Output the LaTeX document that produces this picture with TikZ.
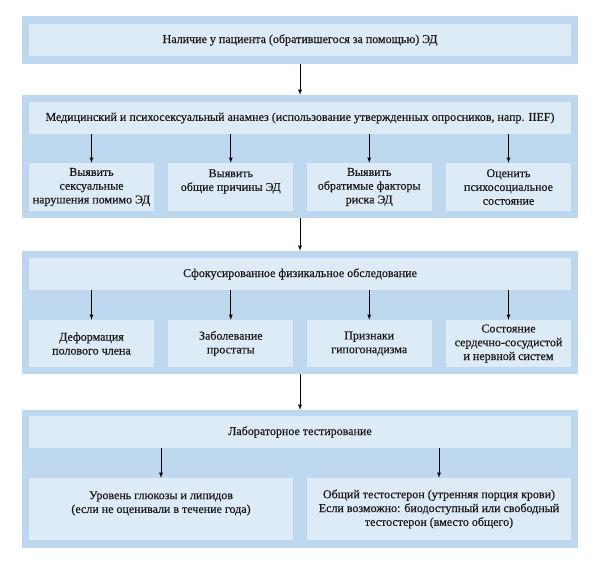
\documentclass[tikz,border=0pt]{standalone}
\usepackage{fontspec}
\setmainfont{Liberation Serif}
\newfontfamily\labelfont{Liberation Serif}[FakeBold=0.35]
\usepackage{xcolor}
\usepackage{tikz}
\usetikzlibrary{arrows}
\definecolor{panelblue}{RGB}{189,215,238}
\definecolor{boxblue}{RGB}{221,235,247}
\definecolor{inkgray}{RGB}{25,22,23}
\tikzstyle{every node}=[font=\labelfont\fontsize{12}{13.8}\selectfont, text=inkgray]
\tikzstyle{panel}=[fill=panelblue, inner sep=0pt, minimum width=556pt]
\tikzstyle{header}=[fill=boxblue, inner sep=0pt, minimum width=542pt, minimum height=32pt]
\tikzstyle{smallbox}=[fill=boxblue, inner sep=0pt, align=center, minimum width=125pt]
\tikzstyle{widebox}=[fill=boxblue, inner sep=0pt, align=center, minimum width=264pt, minimum height=62pt]

\begin{document}
\begin{tikzpicture}[>=latex, x=1pt, y=-1pt]
                \useasboundingbox (0, 0) rectangle (600, 563);
                % panels
                \node [panel, minimum height=48pt] (p1) at (300, 40) {};
                \node [panel, minimum height=123pt] (p2) at (300, 156.5) {};
                \node [panel, minimum height=123pt] (p3) at (300, 312.5) {};
                \node [panel, minimum height=138pt] (p4) at (300, 479) {};
                % headers
                \node [header] (h1) at (300, 40) {Наличие у пациента (обратившегося за помощью) ЭД};
                \node [header] (h2) at (300, 118) {Медицинский и психосексуальный анамнез (использование утвержденных опросников, напр. IIEF)};
                \node [header] (h3) at (300, 274) {Сфокусированное физикальное обследование};
                \node [header] (h4) at (300, 432) {Лабораторное тестирование};
                % history
                \node [smallbox, minimum height=48pt] (s21) at (91.5, 187) {Выявить\\сексуальные\\нарушения помимо ЭД};
                \node [smallbox, minimum height=48pt] (s22) at (230.8, 187) {Выявить\\общие причины ЭД\\\mbox{}};
                \node [smallbox, minimum height=48pt] (s23) at (369.2, 187) {Выявить\\обратимые факторы\\риска ЭД};
                \node [smallbox, minimum height=48pt] (s24) at (508.5, 187) {Оценить\\психосоциальное\\состояние};
                % examination
                \node [smallbox, minimum height=47pt] (s31) at (91.5, 343.5) {Деформация\\полового члена};
                \node [smallbox, minimum height=47pt] (s32) at (230.8, 343.5) {Заболевание\\простаты};
                \node [smallbox, minimum height=47pt] (s33) at (369.2, 343.5) {Признаки\\гипогонадизма};
                \node [smallbox, minimum height=47pt] (s34) at (508.5, 343.5) {Состояние\\сердечно-сосудистой\\и нервной систем};
                % laboratory
                \node [widebox] (s41) at (161, 509) {Уровень глюкозы и липидов\\(если не оценивали в течение года)\\\mbox{}};
                \node [widebox] (s42) at (439, 509) {Общий тестостерон (утренняя порция крови)\\Если возможно: биодоступный или свободный\\тестостерон (вместо общего)};

                \draw [->, line width=0.8pt] (p1.south) -- (p2.north);
                \draw [->, line width=0.8pt] (p2.south) -- (p3.north);
                \draw [->, line width=0.8pt] (p3.south) -- (p4.north);
                \draw [->, line width=0.8pt] (s21 |- h2.south) -- (s21.north);
                \draw [->, line width=0.8pt] (s22 |- h2.south) -- (s22.north);
                \draw [->, line width=0.8pt] (s23 |- h2.south) -- (s23.north);
                \draw [->, line width=0.8pt] (s24 |- h2.south) -- (s24.north);
                \draw [->, line width=0.8pt] (s31 |- h3.south) -- (s31.north);
                \draw [->, line width=0.8pt] (s32 |- h3.south) -- (s32.north);
                \draw [->, line width=0.8pt] (s33 |- h3.south) -- (s33.north);
                \draw [->, line width=0.8pt] (s34 |- h3.south) -- (s34.north);
                \draw [->, line width=0.8pt] (s41 |- h4.south) -- (s41.north);
                \draw [->, line width=0.8pt] (s42 |- h4.south) -- (s42.north);
            \end{tikzpicture}
\end{document}
